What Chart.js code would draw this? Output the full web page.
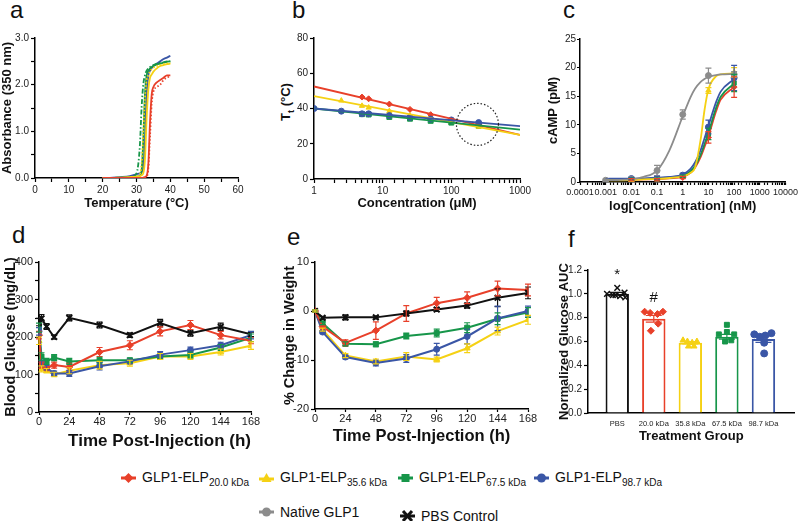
<!DOCTYPE html>
<html>
<head>
<meta charset="utf-8">
<script src="https://cdn.jsdelivr.net/npm/chart.js@4.4.0/dist/chart.umd.min.js"></script>
<style>
  body { margin: 0; width: 800px; height: 521px; background: #fff; position: relative; overflow: hidden;
         font-family: "Liberation Sans", Arial, sans-serif; color: #111; }
  .letter { position: absolute; font-size: 24px; line-height: 24px; }
  .ytitle { position: absolute; font-weight: bold; font-size: 13px; white-space: nowrap;
            transform: translate(-50%, -50%) rotate(-90deg); }
  .lg { position: absolute; display: flex; align-items: center; height: 20px; font-size: 14px; white-space: nowrap; }
  .lg svg { margin-right: 6px; }
  .lg sub { font-size: 10px; vertical-align: -4px; }
</style>
</head>
<body>
<div class="letter" style="left:10px;top:-2px">a</div>
<div class="letter" style="left:292px;top:-2px">b</div>
<div class="letter" style="left:563px;top:-2px">c</div>
<div class="letter" style="left:12px;top:223px">d</div>
<div class="letter" style="left:287px;top:225px">e</div>
<div class="letter" style="left:568px;top:227px">f</div>
<div class="ytitle" style="left:287px;top:102px">T<sub style="font-size:9px">t</sub> (°C)</div>

<div class="lg" style="left:121px;top:468px">
  <svg width="15" height="12"><line x1="0" y1="6" x2="15" y2="6" stroke="#e8402a" stroke-width="3"/><polygon points="7.5,1 12.5,6 7.5,11 2.5,6" fill="#e8402a"/></svg>
  <span>GLP1-ELP<sub>20.0 kDa</sub></span>
</div>
<div class="lg" style="left:259px;top:468px">
  <svg width="15" height="12"><line x1="0" y1="7" x2="15" y2="7" stroke="#f5d114" stroke-width="3"/><polygon points="7.5,1 12.5,10 2.5,10" fill="#f5d114"/></svg>
  <span>GLP1-ELP<sub>35.6 kDa</sub></span>
</div>
<div class="lg" style="left:398px;top:468px">
  <svg width="15" height="12"><line x1="0" y1="6" x2="15" y2="6" stroke="#17964a" stroke-width="3"/><rect x="3.5" y="2" width="8" height="8" fill="#17964a"/></svg>
  <span>GLP1-ELP<sub>67.5 kDa</sub></span>
</div>
<div class="lg" style="left:534px;top:468px">
  <svg width="15" height="12"><line x1="0" y1="6" x2="15" y2="6" stroke="#3a56a6" stroke-width="3"/><circle cx="7.5" cy="6" r="4.5" fill="#3a56a6"/></svg>
  <span>GLP1-ELP<sub>98.7 kDa</sub></span>
</div>
<div class="lg" style="left:259px;top:502px">
  <svg width="15" height="12"><line x1="0" y1="6" x2="15" y2="6" stroke="#8c8c8c" stroke-width="3"/><circle cx="7.5" cy="6" r="4.5" fill="#8c8c8c"/></svg>
  <span>Native GLP1</span>
</div>
<div class="lg" style="left:400px;top:506px">
  <svg width="15" height="12"><line x1="0" y1="6" x2="15" y2="6" stroke="#111" stroke-width="3"/><path d="M3,1 L12,11 M12,1 L3,11" stroke="#111" stroke-width="3"/></svg>
  <span>PBS Control</span>
</div>

<script>
// colours
const RED = '#e8402a', YEL = '#f5d114', GRN = '#17964a', BLU = '#3a56a6', GRY = '#8c8c8c', BLK = '#111111';

// a: turbidity (absorbance at 350 nm) vs temperature
const aTemp = [20, 23, 25, 28, 30, 31, 31.5, 32, 32.5, 33, 33.5, 34, 34.5, 35, 36, 37, 38, 39, 40];
const aRed = [0, 0, 0, 0, 0, 0, 0, 0.01, 0.02, 0.05, 0.3, 1.2, 1.8, 1.95, 2.05, 2.1, 2.15, 2.2, 2.2];
const aRedRep = [0, 0, 0, 0, 0, 0, 0, 0, 0.01, 0.03, 0.2, 0.9, 1.6, 1.85, 1.95, 2.0, 2.1, 2.15, 2.18];
const aYellow = [0, 0, 0.01, 0.02, 0.03, 0.04, 0.06, 0.1, 0.4, 1.3, 1.9, 2.15, 2.22, 2.28, 2.35, 2.4, 2.42, 2.44, 2.45];
const aYellowRep = [0, 0, 0, 0.01, 0.03, 0.08, 0.3, 1.0, 1.7, 2.1, 2.2, 2.28, 2.33, 2.36, 2.4, 2.42, 2.44, 2.45, 2.46];
const aGreen = [0, 0, 0.01, 0.02, 0.03, 0.05, 0.15, 0.8, 1.8, 2.2, 2.3, 2.35, 2.38, 2.4, 2.43, 2.45, 2.47, 2.49, 2.5];
const aGreenRep = [0, 0, 0, 0.01, 0.1, 0.7, 1.5, 2.0, 2.2, 2.3, 2.35, 2.38, 2.4, 2.42, 2.45, 2.47, 2.48, 2.5, 2.5];
const aBlue = [0, 0.01, 0.02, 0.04, 0.08, 0.1, 0.12, 0.2, 0.8, 1.8, 2.2, 2.3, 2.36, 2.4, 2.45, 2.5, 2.55, 2.58, 2.62];

// b: transition temperature vs concentration
const bConcRed = [5, 6.25, 12.5, 25, 50, 100, 250];
const bTtRed = [46.5, 45.5, 42.5, 39.5, 36.5, 33.5, 31];
const bConcYellow = [2.5, 5, 6.25, 12.5, 25, 50, 100, 250];
const bTtYellow = [44.5, 41.5, 40.5, 38.5, 36, 34, 32, 29.5];
const bConcGreen = [5, 6.25, 12.5, 25, 50, 100, 250];
const bTtGreen = [36.8, 36.6, 35.2, 34.2, 33, 32, 30.5];
const bConcBlue = [1, 2.5, 5, 6.25, 12.5, 25, 50, 100, 250];
const bTtBlue = [40, 38.5, 37, 37, 36, 35, 34, 33.5, 32];
const bFitConc = [1, 1000];
const bFitRed = [52.5, 25];
const bFitYellow = [47, 25];
const bFitGreen = [40, 28];
const bFitBlue = [40, 30];
const bCircle = [240, 31];
const bTickLabels = [1, 10, 100, 1000];

// c: cAMP dose response
const cCurveConc = [0.001, 0.003, 0.01, 0.03, 0.1, 0.3, 1, 2, 3, 5, 7, 10, 20, 30, 100];
const cCurveGray = [0.3, 0.35, 0.5, 0.9, 2.0, 5.5, 11.5, 14.8, 16.3, 17.5, 18.0, 18.4, 18.7, 18.8, 18.9];
const cCurveYellow = [0.3, 0.3, 0.35, 0.45, 0.55, 0.7, 1.0, 1.6, 2.5, 7.5, 12.5, 16.2, 18.5, 18.8, 19.0];
const cCurveBlue = [0.55, 0.6, 0.6, 0.65, 0.75, 0.9, 1.3, 2.3, 3.4, 5.6, 7.6, 9.8, 14.0, 15.8, 18.0];
const cCurveGreen = [0.45, 0.5, 0.5, 0.55, 0.6, 0.75, 1.1, 1.9, 2.8, 4.8, 6.6, 8.6, 13.0, 14.9, 17.2];
const cCurveRed = [0.35, 0.4, 0.4, 0.45, 0.5, 0.65, 0.9, 1.6, 2.5, 4.4, 6.1, 8.0, 12.4, 14.4, 16.6];
const cConcGray = [0.001, 0.01, 0.1, 1, 10, 100];
const cGray = [0.3, 0.5, 2.0, 11.8, 18.6, 18.8];
const cGrayErr = [0.2, 0.3, 0.9, 0.8, 1.3, 0.5];
const cConc = [0.01, 0.1, 1, 10, 100];
const cYellow = [0.3, 0.5, 0.9, 16.0, 19.2];
const cYellowErr = [0.2, 0.2, 0.2, 0.5, 0.8];
const cBlue = [0.6, 0.7, 1.2, 9.6, 18.2];
const cBlueErr = [0.2, 0.3, 0.3, 1.2, 2.2];
const cGreen = [0.5, 0.5, 1.0, 8.4, 17.3];
const cGreenErr = [0.2, 0.2, 0.2, 1.0, 1.5];
const cRed = [0.4, 0.4, 0.8, 7.8, 16.6];
const cRedErr = [0.2, 0.2, 0.2, 1.0, 1.8];
const cTickLabels = ['0.0001', '0.001', '0.01', '0.1', '1', '10', '100', '1000', '10000'];

// d: blood glucose
const dTime = [0, 2, 6, 12, 24, 48, 72, 96, 120, 144, 168];
const dBlack = [240, 250, 228, 200, 251, 232, 205, 237, 210, 227, 207];
const dBlackErr = [10, 10, 8, 6, 8, 8, 6, 10, 8, 10, 6];
const dRed = [205, 125, 118, 125, 120, 160, 178, 215, 232, 205, 190];
const dRedErr = [10, 8, 8, 8, 10, 12, 12, 12, 12, 10, 8];
const dYellow = [190, 115, 110, 100, 110, 125, 130, 148, 148, 160, 177];
const dYellowErr = [10, 8, 6, 6, 8, 10, 8, 8, 8, 8, 10];
const dGreen = [225, 148, 135, 145, 135, 138, 138, 148, 152, 172, 198];
const dGreenErr = [12, 10, 8, 8, 8, 8, 6, 8, 8, 8, 10];
const dBlue = [215, 130, 118, 103, 103, 122, 135, 153, 165, 178, 205];
const dBlueErr = [10, 8, 6, 6, 8, 10, 6, 8, 8, 8, 10];

// e: weight change
const eTime = [0, 6, 24, 48, 72, 96, 120, 144, 168];
const eBlack = [0, -1.4, -1.3, -1.3, -0.5, 0.3, 1.1, 2.7, 3.7];
const eBlackErr = [0.2, 0.3, 0.5, 0.3, 0.5, 0.4, 0.5, 1.8, 1.2];
const eRed = [0, -3.2, -6.5, -4.0, -0.5, 1.6, 2.7, 4.6, 4.3];
const eRedErr = [0.2, 0.4, 0.6, 1.8, 1.6, 1.2, 1.2, 1.5, 1.2];
const eGreen = [0, -2.5, -6.7, -6.8, -5.1, -4.5, -3.4, -1.6, -0.3];
const eGreenErr = [0.2, 0.3, 0.4, 0.5, 0.6, 0.8, 1.0, 1.2, 1.0];
const eBlue = [0, -4.3, -9.4, -10.6, -9.7, -7.8, -5.2, -1.5, 0];
const eBlueErr = [0.2, 0.3, 0.4, 0.6, 0.8, 1.2, 1.5, 2.5, 1.0];
const eYellow = [0, -3.8, -9.1, -10.3, -9.3, -9.9, -7.6, -4.1, -1.8];
const eYellowErr = [0.2, 0.3, 0.4, 0.5, 0.8, 0.5, 0.9, 0.8, 0.9];

// f: normalized glucose AUC
const fGroups = ['PBS', '20.0 kDa', '35.8 kDa', '67.5 kDa', '98.7 kDa'];
const fMeans = [1.0, 0.79, 0.59, 0.64, 0.62];
const fSem = [0.012, 0.028, 0.01, 0.02, 0.028];
const fPtsPBS = [1.05, 1.0, 0.99, 0.98, 0.97, 1.01, 0.99];
const fJitPBS = [0, -0.28, -0.12, 0.08, 0.22, 0.2, -0.05];
const fPtsRed = [0.85, 0.84, 0.83, 0.85, 0.75, 0.69];
const fJitRed = [-0.25, -0.1, 0.1, 0.25, 0.12, -0.08];
const fPtsYellow = [0.61, 0.60, 0.59, 0.60, 0.56, 0.56];
const fJitYellow = [-0.2, -0.08, 0.05, 0.18, -0.05, 0.1];
const fPtsGreen = [0.74, 0.66, 0.68, 0.66, 0.60, 0.61];
const fJitGreen = [0, -0.22, 0, 0.2, -0.05, 0.12];
const fPtsBlue = [0.66, 0.64, 0.65, 0.67, 0.59, 0.50];
const fJitBlue = [-0.25, -0.1, 0.05, 0.22, 0.02, 0.02];
const fMarkText = ['*', '#'];
const fMarkX = [0, 1];
const fMarkY = [1.16, 0.97];

Chart.defaults.animation = false;
Chart.defaults.font.family = '"Liberation Sans", Arial, sans-serif';
Chart.defaults.color = '#222';
Chart.defaults.plugins.legend.display = false;
Chart.defaults.plugins.tooltip.enabled = false;

// vertical error bars from dataset.err
const errorBars = {
  id: 'errorBars',
  afterDatasetsDraw(chart) {
    const ctx = chart.ctx;
    chart.data.datasets.forEach((ds, i) => {
      if (!ds.err) return;
      const meta = chart.getDatasetMeta(i);
      const ys = chart.scales[meta.yAxisID];
      ctx.save();
      ctx.lineWidth = 1.2;
      meta.data.forEach((el, j) => {
        const e = ds.err[j];
        if (!e) return;
        const v = meta._parsed[j].y;
        const t = ys.getPixelForValue(v + e), b = ys.getPixelForValue(v - e);
        const col = ds.errColor || ds.borderColor;
        ctx.strokeStyle = Array.isArray(col) ? col[j] : col;
        const cap = ds.capWidth || 3;
        ctx.beginPath();
        ctx.moveTo(el.x, t); ctx.lineTo(el.x, b);
        ctx.moveTo(el.x - cap, t); ctx.lineTo(el.x + cap, t);
        ctx.moveTo(el.x - cap, b); ctx.lineTo(el.x + cap, b);
        ctx.stroke();
      });
      ctx.restore();
    });
  }
};

function mkCanvas(left, top, w, h) {
  const c = document.createElement('canvas');
  c.width = w; c.height = h;
  c.style.cssText = `position:absolute;left:${left}px;top:${top}px;width:${w}px;height:${h}px`;
  document.body.appendChild(c);
  return c;
}

// box = [L, T, R, B] of the plot area on the page
function panel(box, yw, xh, pt, pr, config) {
  const [L, T, R, B] = box;
  const cv = mkCanvas(L - yw, T - pt, R - L + yw + pr, B - T + pt + xh);
  config.options.responsive = false;
  config.options.layout = { padding: { top: pt, right: pr, left: 0, bottom: 0 } };
  config.options.scales.x.afterFit = s => { s.height = xh; };
  config.options.scales.y.afterFit = s => { s.width = yw; };
  return new Chart(cv, config);
}

function ax(o) {
  const ticks = { font: { size: o.fs || 10 }, color: '#222', padding: o.pad === undefined ? 2 : o.pad,
                  autoSkip: false, maxRotation: 0, minRotation: 0 };
  if (o.step !== undefined) ticks.stepSize = o.step;
  if (o.cb) ticks.callback = o.cb;
  const a = {
    type: o.type || 'linear',
    min: o.min, max: o.max,
    offset: false,
    border: { color: '#000', width: 1.5 },
    grid: o.noTicks ? { display: false, drawTicks: false } :
      { drawOnChartArea: false, color: '#000', tickLength: o.tl || 4, tickWidth: 1.2, offset: false },
    ticks: ticks,
    title: o.title ? { display: true, text: o.title, color: '#111', padding: 0, align: o.align || 'center',
                       font: { size: o.ts || 13, weight: 'bold' } } : { display: false }
  };
  if (o.abt) a.afterBuildTicks = o.abt;
  return a;
}

const isDecade = v => Math.abs(Math.log10(v) - Math.round(Math.log10(v))) < 1e-6;
const xy = (xs, ys) => xs.map((x, i) => ({ x: x, y: ys[i] }));

function lineSet(xs, ys, color, dash) {
  return { type: 'line', data: xy(xs, ys), borderColor: color, borderWidth: 1.8, pointRadius: 0,
           borderDash: dash || [], cubicInterpolationMode: 'monotone', fill: false };
}
function markSet(xs, ys, err, color, style, r, line) {
  return { type: line ? 'line' : 'scatter', data: xy(xs, ys), err: err, borderColor: color, backgroundColor: color,
           pointStyle: style, pointRadius: r || 3.5, pointBorderWidth: style === 'crossRot' ? 2 : 1,
           borderWidth: 2, showLine: !!line, tension: 0, fill: false };
}

// ---- a ----
panel([35, 38, 238, 178], 35, 33, 10, 12, {
  type: 'line',
  data: { datasets: [
    lineSet(aTemp, aRedRep, RED, [1.5, 2]),
    lineSet(aTemp, aRed, RED),
    lineSet(aTemp, aYellowRep, YEL, [1.5, 2]),
    lineSet(aTemp, aYellow, YEL),
    lineSet(aTemp, aGreenRep, GRN, [5, 2, 1.5, 2]),
    lineSet(aTemp, aGreen, GRN),
    lineSet(aTemp, aBlue, BLU)
  ] },
  options: { scales: {
    x: ax({ min: 0, max: 60, step: 5, cb: v => v % 10 === 0 ? v : '', title: 'Temperature (°C)' }),
    y: ax({ min: 0, max: 3, step: 0.5, cb: v => Number.isInteger(v) ? v.toFixed(1) : '', title: 'Absorbance (350 nm)' })
  } }
});

// ---- b ----
const circlePlugin = {
  id: 'circle',
  afterDatasetsDraw(chart) {
    const { ctx, scales } = chart;
    ctx.save();
    ctx.strokeStyle = '#222'; ctx.lineWidth = 1.2; ctx.setLineDash([1.5, 2]);
    ctx.beginPath();
    ctx.arc(scales.x.getPixelForValue(bCircle[0]), scales.y.getPixelForValue(bCircle[1]), 21, 0, Math.PI * 2);
    ctx.stroke();
    ctx.restore();
  }
};
panel([314, 38, 520, 179], 30, 32, 10, 14, {
  type: 'scatter',
  data: { datasets: [
    lineSet(bFitConc, bFitBlue, BLU),
    lineSet(bFitConc, bFitGreen, GRN),
    lineSet(bFitConc, bFitYellow, YEL),
    lineSet(bFitConc, bFitRed, RED),
    markSet(bConcBlue, bTtBlue, null, BLU, 'circle', 3),
    markSet(bConcGreen, bTtGreen, null, GRN, 'rect', 3.5),
    markSet(bConcYellow, bTtYellow, null, YEL, 'triangle', 3),
    markSet(bConcRed, bTtRed, null, RED, 'rectRot', 3)
  ] },
  options: { scales: {
    x: ax({ type: 'logarithmic', min: 1, max: 1000, cb: v => isDecade(v) ? bTickLabels[Math.round(Math.log10(v))] : '',
            title: 'Concentration (μM)' }),
    y: ax({ min: 0, max: 80, step: 20 })
  } },
  plugins: [circlePlugin]
});

// ---- c ----
panel([580, 39, 788, 182], 34, 32, 10, 12, {
  type: 'scatter',
  data: { datasets: [
    lineSet(cCurveConc, cCurveGray, GRY),
    lineSet(cCurveConc, cCurveYellow, YEL),
    lineSet(cCurveConc, cCurveBlue, BLU),
    lineSet(cCurveConc, cCurveGreen, GRN),
    lineSet(cCurveConc, cCurveRed, RED),
    markSet(cConcGray, cGray, cGrayErr, GRY, 'circle', 3),
    markSet(cConc, cYellow, cYellowErr, YEL, 'triangle', 3),
    markSet(cConc, cBlue, cBlueErr, BLU, 'circle', 3),
    markSet(cConc, cGreen, cGreenErr, GRN, 'rect', 3),
    markSet(cConc, cRed, cRedErr, RED, 'rectRot', 3)
  ] },
  options: { scales: {
    x: ax({ type: 'logarithmic', min: 0.0001, max: 10000, fs: 9, tl: 3,
            cb: v => isDecade(v) ? cTickLabels[Math.round(Math.log10(v)) + 4] : '',
            title: 'log[Concentration] (nM)' }),
    y: ax({ min: 0, max: 25, step: 5, tl: 3, pad: 1, title: 'cAMP (pM)' })
  } },
  plugins: [errorBars]
});

// ---- d ----
panel([39, 262, 251, 412], 37, 40, 10, 14, {
  type: 'line',
  data: { datasets: [
    markSet(dTime, dBlack, dBlackErr, BLK, 'crossRot', 4, true),
    markSet(dTime, dRed, dRedErr, RED, 'rectRot', 3.5, true),
    markSet(dTime, dBlue, dBlueErr, BLU, 'circle', 3, true),
    markSet(dTime, dGreen, dGreenErr, GRN, 'rect', 3.5, true),
    markSet(dTime, dYellow, dYellowErr, YEL, 'triangle', 3.5, true)
  ] },
  options: { scales: {
    x: ax({ min: 0, max: 168, step: 24, fs: 11, ts: 17, tl: 3, pad: 0, align: 'end', title: 'Time Post-Injection (h)' }),
    y: ax({ min: 0, max: 400, step: 50, fs: 11, ts: 14.5, cb: v => v % 100 === 0 ? v : '', title: 'Blood Glucose (mg/dL)' })
  } },
  plugins: [errorBars]
});

// ---- e ----
panel([315, 262, 528, 409], 34, 37, 10, 14, {
  type: 'line',
  data: { datasets: [
    markSet(eTime, eBlack, eBlackErr, BLK, 'crossRot', 4, true),
    markSet(eTime, eRed, eRedErr, RED, 'rectRot', 3.5, true),
    markSet(eTime, eBlue, eBlueErr, BLU, 'circle', 3, true),
    markSet(eTime, eGreen, eGreenErr, GRN, 'rect', 3.5, true),
    markSet(eTime, eYellow, eYellowErr, YEL, 'triangle', 3.5, true)
  ] },
  options: { scales: {
    x: ax({ min: 0, max: 168, step: 24, fs: 11, ts: 16.5, tl: 3, pad: 0, title: 'Time Post-Injection (h)' }),
    y: ax({ min: -20, max: 10, step: 10, fs: 11, ts: 14.5, title: '% Change in Weight' })
  } },
  plugins: [errorBars]
});

// ---- f ----
const fColors = [BLK, RED, YEL, GRN, BLU];
const fMarks = {
  id: 'fMarks',
  afterDatasetsDraw(chart) {
    const { ctx, scales } = chart;
    ctx.save();
    ctx.fillStyle = '#111';
    ctx.font = '15px "Liberation Sans", Arial, sans-serif';
    ctx.textAlign = 'center'; ctx.textBaseline = 'middle';
    fMarkText.forEach((t, i) => ctx.fillText(t, scales.x.getPixelForValue(fMarkX[i]), scales.y.getPixelForValue(fMarkY[i])));
    ctx.restore();
  }
};
const fPts = [fPtsPBS, fPtsRed, fPtsYellow, fPtsGreen, fPtsBlue];
const fJit = [fJitPBS, fJitRed, fJitYellow, fJitGreen, fJitBlue];
const fStyles = ['crossRot', 'rectRot', 'triangle', 'rect', 'circle'];
panel([588, 270, 795, 413], 31, 31, 22, 5, {
  type: 'bar',
  data: { datasets: [
    { type: 'bar', order: 2, data: xy(fGroups.map((g, i) => i), fMeans), backgroundColor: '#fff', borderColor: fColors,
      borderWidth: 2, barPercentage: 0.64, categoryPercentage: 1, err: fSem, errColor: fColors, capWidth: 8 }
  ].concat(fPts.map((p, g) => ({
      type: 'scatter', order: 0, data: p.map((v, k) => ({ x: g + fJit[g][k], y: v })), backgroundColor: fColors[g],
      borderColor: fColors[g], pointStyle: fStyles[g], pointRadius: g === 0 ? 4 : 3.5,
      pointBorderWidth: g === 0 ? 1.5 : 1 }))) },
  options: { scales: {
    x: ax({ min: -0.8, max: 4.85, fs: 7.5, pad: 6, noTicks: true, ts: 13,
            abt: s => { s.ticks = fGroups.map((g, i) => ({ value: i })); },
            cb: v => fGroups[v], title: 'Treatment Group' }),
    y: ax({ min: 0, max: 1.2, step: 0.2, cb: v => v.toFixed(1), ts: 13, title: 'Normalized Glucose AUC' })
  } },
  plugins: [errorBars, fMarks]
});
</script>
</body>
</html>
